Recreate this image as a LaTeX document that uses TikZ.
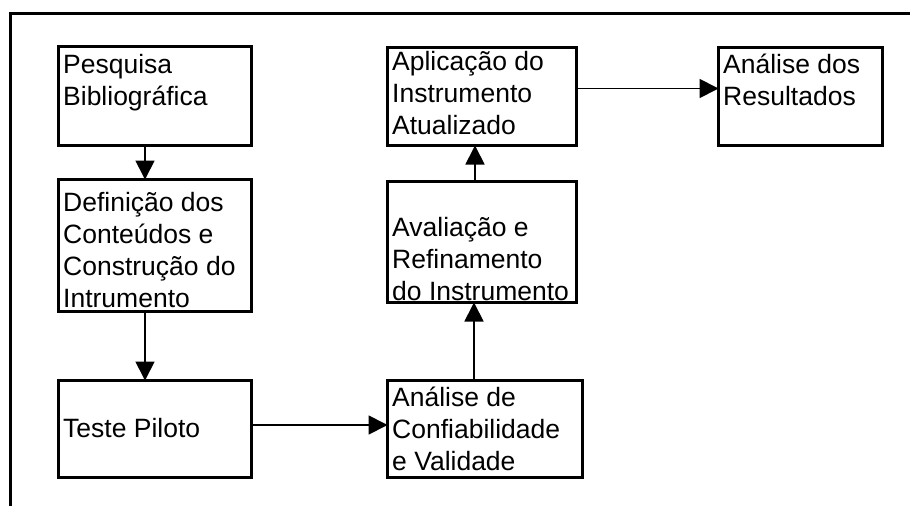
\documentclass[tikz,border=0pt]{standalone}
\usepackage{fontspec}
\setmainfont{Liberation Sans}
\usetikzlibrary{arrows.meta,calc}
\begin{document}
\begin{tikzpicture}[x=1pt,y=-1pt,
  box/.style={draw=black,line width=2.8pt,fill=white,inner sep=0pt,outer sep=0pt},
  txt/.style={anchor=base west,inner sep=0pt,align=left,font=\fontsize{26.5}{32}\selectfont},
  arr/.style={line width=1.8pt,-{Triangle[length=19pt,width=19pt]}},
  frame/.style={line width=3pt}]
\useasboundingbox (0,0) rectangle (910,506);
\coordinate (fr0) at (910,13);
\coordinate (fr1) at (10,13);
\coordinate (fr2) at (10,506);
\draw[frame] (fr0) -- (fr1) -- (fr2);
% boxes
\node[box,minimum width=193pt,minimum height=99pt] (b1) at (155,96) {};
\node[box,minimum width=193pt,minimum height=132pt] (b2) at (155,245.5) {};
\node[box,minimum width=193pt,minimum height=97pt] (b3) at (155,429) {};
\node[box,minimum width=195pt,minimum height=97pt] (b4) at (485,429) {};
\node[box,minimum width=189pt,minimum height=121pt] (b5) at (482,242) {};
\node[box,minimum width=189pt,minimum height=98pt] (b6) at (482,96.5) {};
\node[box,minimum width=164pt,minimum height=98pt] (b7) at (800.5,96.5) {};
% texts (anchor = baseline of the last line)
\node[txt] (t1) at (63,105) {Pesquisa\\Bibliográfica};
\node[txt] (t2) at (63,307) {Definição dos\\Conteúdos e\\Construção do\\Intrumento};
\node[txt] (t3) at (63,437) {Teste Piloto};
\node[txt] (t4) at (392,470) {Análise de\\Confiabilidade\\e Validade};
\node[txt] (t5) at (392,300) {Avaliação e\\Refinamento\\do Instrumento};
\node[txt] (t6) at (392,134) {Aplicação do\\Instrumento\\Atualizado};
\node[txt] (t7) at (723,105) {Análise dos\\Resultados};
% connectors
\draw[arr] ($(b1.south)+(-10,0)$) -- ($(b2.north)+(-10,0)$);
\draw[arr] ($(b2.south)+(-10,0)$) -- ($(b3.north)+(-10,0)$);
\draw[arr] ($(b3.east)+(0,-4)$) -- ($(b4.west)+(0,-4)$);
\draw[arr] ($(b4.north)+(-11,0)$) -- ($(b5.south)+(-8,0)$);
\draw[arr] ($(b5.north)+(-7,0)$) -- ($(b6.south)+(-7,0)$);
\draw[arr] ($(b6.east)+(0,-8)$) -- ($(b7.west)+(0,-8)$);
\end{tikzpicture}
\end{document}
